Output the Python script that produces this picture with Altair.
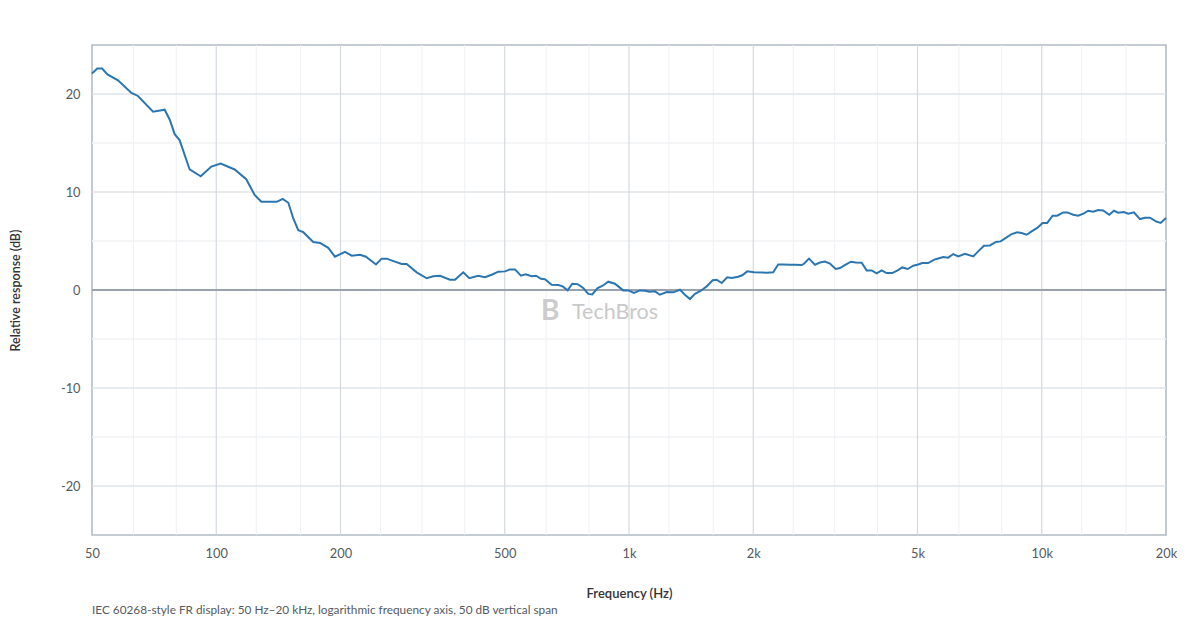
import altair as alt
import pandas as pd

# ---- data ----
freq_hz = [50, 51.5, 52.9, 54.5, 57.8, 62.3, 64.6, 70.3, 75.0, 77.1, 79.3, 81.5, 86.2, 91.7, 97.3,
           102.5, 110.8, 118.2, 123.9, 128.6, 132.5, 140.1, 144.9, 149.5, 153.7, 158.0, 162.5, 171.8,
           178.4, 186.8, 193.9, 205.1, 212.9, 223.0, 230.5, 243.8, 251.6, 258.8, 271.0, 281.3, 289.3,
           305.9, 323.5, 335.6, 348.4, 368.4, 378.8, 396.7, 410.2, 431.3, 447.8, 464.8, 482.3, 500.6,
           514.8, 529.3, 547.3, 561.9, 581.0, 595.1, 611.9, 625.7, 649.5, 673.9, 690.7, 710.1, 728.6,
           750.9, 774.7, 796.6, 814.6, 839.5, 863.3, 890.7, 924.6, 941.8, 968.4, 995.8, 1028, 1063,
           1093, 1120, 1156, 1188, 1234, 1280, 1329, 1366, 1405, 1445, 1494, 1542, 1595, 1631, 1677,
           1730, 1773, 1839, 1881, 1934, 2008, 2155, 2236, 2299, 2364, 2454, 2524, 2620, 2658, 2729,
           2822, 2902, 2984, 3068, 3167, 3244, 3349, 3450, 3541, 3662, 3765, 3872, 3981, 4094, 4210,
           4343, 4476, 4592, 4733, 4883, 5021, 5134, 5308, 5489, 5613, 5772, 5935, 6103, 6276, 6514,
           6823, 7016, 7242, 7489, 7744, 7949, 8220, 8453, 8721, 8938, 9191, 9451, 9750, 10048,
           10310, 10625, 10901, 11272, 11527, 11919, 12256, 12652, 12959, 13325, 13702, 14090,
           14570, 14957, 15320, 15816, 16200, 16724, 17293, 17783, 18286, 18907, 19409, 20000]
response_db = [22.1, 22.6, 22.6, 22.0, 21.4, 20.1, 19.8, 18.2, 18.4, 17.4, 15.9, 15.3, 12.3, 11.6, 12.6,
               12.9, 12.3, 11.3, 9.7, 9.0, 9.0, 9.0, 9.3, 8.9, 7.3, 6.1, 5.9, 4.9,
               4.8, 4.3, 3.4, 3.9, 3.5, 3.6, 3.4, 2.6, 3.2, 3.2, 2.9, 2.65, 2.65,
               1.8, 1.2, 1.4, 1.45, 1.05, 1.05, 1.8, 1.2, 1.46, 1.3, 1.56, 1.87, 1.9,
               2.1, 2.1, 1.46, 1.6, 1.4, 1.46, 1.15, 1.1, 0.54, 0.5, 0.37, -0.04, 0.64,
               0.6, 0.2, -0.4, -0.45, 0.2, 0.44, 0.85, 0.64, 0.37, -0.04, -0.04, -0.3, -0.04,
               -0.07, -0.17, -0.14, -0.48, -0.2, -0.24, 0.03, -0.48, -0.92, -0.4, -0.07, 0.37, 1.0, 1.05, 0.71,
               1.29, 1.22, 1.36, 1.5, 1.9, 1.8, 1.77, 1.8, 2.6, 2.6, 2.58, 2.58, 2.55, 2.7, 3.2,
               2.58, 2.8, 2.9, 2.7, 2.14, 2.24, 2.58, 2.89, 2.8, 2.78, 2.0, 2.0, 1.69, 2.0, 1.73,
               1.73, 2.0, 2.3, 2.14, 2.48, 2.6, 2.75, 2.75, 3.1, 3.22, 3.37, 3.3, 3.67, 3.43, 3.7,
               3.43, 3.94, 4.52, 4.55, 4.9, 4.96, 5.37, 5.71, 5.88, 5.82, 5.64, 5.98, 6.33, 6.84,
               6.84, 7.58, 7.58, 7.92, 7.92, 7.68, 7.58, 7.82, 8.09, 7.99, 8.16, 8.12,
               7.68, 8.09, 7.89, 7.96, 7.79, 7.92, 7.24, 7.38, 7.38, 7.0, 6.84, 7.35]

x_tick_values = [50, 100, 200, 500, 1000, 2000, 5000, 10000, 20000]
x_tick_labels = ["50", "100", "200", "500", "1k", "2k", "5k", "10k", "20k"]
y_tick_values = [-20, -10, 0, 10, 20]
y_tick_labels = ["-20", "-10", "0", "10", "20"]
x_major_grid = [100, 200, 500, 1000, 2000, 5000, 10000]
x_minor_grid = [63, 80, 125, 160, 250, 315, 400, 630, 800, 1250, 1600, 2500, 3150, 4000,
                6300, 8000, 12500, 16000]
y_major_grid = [-20, -10, 10, 20]
y_minor_grid = [-15, -5, 5, 15]
y_zero = [0]

x_title = "Frequency (Hz)"
y_title = "Relative response (dB)"
footnote = "IEC 60268-style FR display: 50 Hz\u201320 kHz, logarithmic frequency axis, 50 dB vertical span"
watermark = "TechBros"

FONT = "Segoe UI, Lato, Noto Sans, sans-serif"


def label_expr(values, labels):
    expr = "''"
    for v, l in reversed(list(zip(values, labels))):
        expr = f"datum.value == {v} ? '{l}' : ({expr})"
    return expr


xscale = alt.Scale(type="log", domain=[50, 20000], nice=False)
yscale = alt.Scale(domain=[-25, 25], nice=False)

x_axis = alt.Axis(values=x_tick_values, labelExpr=label_expr(x_tick_values, x_tick_labels),
                  title=x_title, grid=False, ticks=False, domain=False, labelPadding=12,
                  labelFontSize=12.8, labelColor="#555a60", labelFont=FONT,
                  titleFont=FONT, titleFontSize=13, titleFontWeight=600, titleColor="#333",
                  titlePadding=28, labelFlush=False)
y_axis = alt.Axis(values=y_tick_values, labelExpr=label_expr(y_tick_values, y_tick_labels),
                  title=y_title, grid=False, ticks=False, domain=False, labelPadding=12,
                  labelFontSize=12.8, labelColor="#555a60", labelFont=FONT,
                  titleFont=FONT, titleFontSize=12.5, titleFontWeight=600, titleColor="#333",
                  titlePadding=38)

curve_df = pd.DataFrame({"f": freq_hz, "db": response_db})

minor_x = alt.Chart(pd.DataFrame({"f": x_minor_grid})).mark_rule(
    color="#edf0f3", strokeWidth=1).encode(x=alt.X("f:Q", scale=xscale, axis=x_axis))
minor_y = alt.Chart(pd.DataFrame({"v": y_minor_grid})).mark_rule(
    color="#f0f2f4", strokeWidth=1.5).encode(y=alt.Y("v:Q", scale=yscale, axis=y_axis))
major_y = alt.Chart(pd.DataFrame({"v": y_major_grid})).mark_rule(
    color="#e0e4e8", strokeWidth=1.5).encode(y=alt.Y("v:Q", scale=yscale))
major_x = alt.Chart(pd.DataFrame({"f": x_major_grid})).mark_rule(
    color="#d3d9df", strokeWidth=1.2).encode(x=alt.X("f:Q", scale=xscale))
zero = alt.Chart(pd.DataFrame({"v": y_zero})).mark_rule(
    color="#9aa3ad", strokeWidth=2).encode(y=alt.Y("v:Q", scale=yscale))

wm = alt.Chart(pd.DataFrame({"t": [watermark]})).mark_text(
    align="left", baseline="middle", font=FONT, fontSize=21.5, color="#c9c9c9").encode(
    x=alt.value(480), y=alt.value(268), text="t:N")
wm_logo = alt.Chart(pd.DataFrame({"t": ["B"]})).mark_text(
    align="left", baseline="middle", font=FONT, fontSize=28, fontWeight="bold", color="#cccccc").encode(
    x=alt.value(449), y=alt.value(267), text="t:N")

line = alt.Chart(curve_df).mark_line(color="#2b76b1", strokeWidth=2, interpolate="linear").encode(
    x=alt.X("f:Q", scale=xscale), y=alt.Y("db:Q", scale=yscale))

note = alt.Chart(pd.DataFrame({"t": [footnote]})).mark_text(
    align="left", baseline="middle", font=FONT, fontSize=11.8, color="#555a60").encode(
    x=alt.value(0), y=alt.value(565), text="t:N")

chart = alt.layer(minor_x, minor_y, major_y, major_x, zero, wm_logo, wm, line, note).properties(
    width=1074, height=490,
    autosize=alt.AutoSizeParams(type="none"),
    padding={"left": 84, "top": 37, "right": 26, "bottom": 90},
    background="white",
).configure_view(stroke="#b3bbc4", strokeWidth=1.6)

chart.save("out.html", embed_options={"renderer": "svg", "actions": False})
